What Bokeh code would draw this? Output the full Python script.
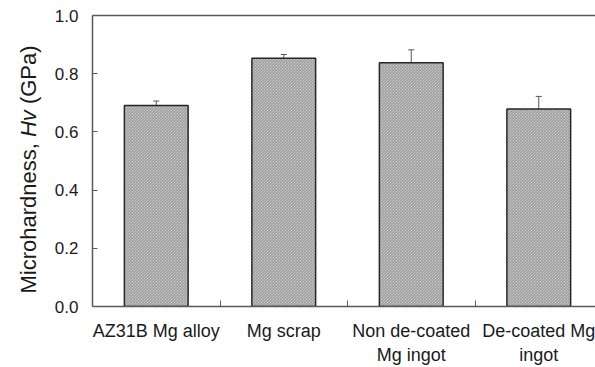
import math
from bokeh.plotting import figure
from bokeh.layouts import row
from bokeh.models import (ColumnDataSource, Range1d, FixedTicker, LinearAxis, Whisker)
from bokeh.core.properties import value
from bokeh.embed import file_html
from bokeh.resources import INLINE

categories = ["AZ31B Mg alloy", "Mg scrap", "Non de-coated\nMg ingot", "De-coated Mg\ningot"]
hardness = [0.691, 0.853, 0.838, 0.679]
errors = [0.015, 0.013, 0.044, 0.043]
y_ticks = [0.0, 0.2, 0.4, 0.6, 0.8, 1.0]
y_title_parts = ["Microhardness,", "Hv", "(GPa)"]

xs = list(range(len(categories)))
src = ColumnDataSource(dict(
    x=xs, top=hardness,
    upper=[h + e for h, e in zip(hardness, errors)],
    lower=[h - e for h, e in zip(hardness, errors)],
))

FONT = "Liberation Sans"
AXIS_COL = "#595959"
TXT_COL = "#1a1a1a"
W, H = 595, 367
LEFT_W = 48

p = figure(width=W - LEFT_W, height=H, output_backend="svg", toolbar_location=None,
           x_range=Range1d(-0.5, 3.445), y_range=Range1d(0, 1.0),
           min_border_left=92 - LEFT_W, min_border_right=0, min_border_top=15,
           min_border_bottom=51)
p.background_fill_color = "white"
p.border_fill_color = "white"
p.outline_line_color = None
p.xgrid.grid_line_color = None
p.ygrid.grid_line_color = None

p.vbar(x="x", top="top", width=0.5, bottom=0, source=src,
       fill_color="#e4e4e4", line_color="#262626", line_width=1.5,
       hatch_pattern="\\", hatch_color="#8c8c8c", hatch_scale=3, hatch_weight=1)

w = Whisker(base="x", upper="upper", lower="lower", source=src,
            line_color="#595959", line_width=1)
w.upper_head.size = 6
w.lower_head.size = 6
w.upper_head.line_color = "#595959"
w.lower_head.line_color = "#595959"
p.add_layout(w)

# x axis
xa = p.xaxis[0]
xa.ticker = FixedTicker(ticks=xs, minor_ticks=[0.5, 1.5, 2.5])
xa.major_label_overrides = {i: c for i, c in enumerate(categories)}
xa.major_tick_line_color = None
xa.minor_tick_in = 6
xa.minor_tick_out = 0
xa.minor_tick_line_color = AXIS_COL
xa.axis_line_color = AXIS_COL
xa.axis_line_width = 1.5
xa.major_label_text_font = FONT
xa.major_label_text_font_size = "18px"
xa.major_label_text_color = TXT_COL
xa.major_label_standoff = 8

# y axis
ya = p.yaxis[0]
ya.ticker = FixedTicker(ticks=y_ticks)
ya.major_label_overrides = {t: f"{t:.1f}" for t in y_ticks}
ya.major_tick_in = 5
ya.major_tick_out = 0
ya.minor_tick_line_color = None
ya.major_tick_line_color = AXIS_COL
ya.axis_line_color = AXIS_COL
ya.axis_line_width = 1.5
ya.major_label_text_font = FONT
ya.major_label_text_font_size = "17px"
ya.major_label_text_color = TXT_COL
ya.major_label_standoff = 14

# top border line
top_axis = LinearAxis(ticker=FixedTicker(ticks=[]), axis_line_color=AXIS_COL,
                      axis_line_width=1.5, major_tick_line_color=None,
                      minor_tick_line_color=None, major_label_text_font_size="0px")
p.add_layout(top_axis, "above")

# left strip holding the y-axis title (with italic Hv)
lf = figure(frame_width=LEFT_W, frame_height=H, output_backend="svg", toolbar_location=None,
            x_range=Range1d(0, LEFT_W), y_range=Range1d(0, H), title=None,
            x_axis_type=None, y_axis_type=None,
            min_border_left=0, min_border_right=0, min_border_top=0, min_border_bottom=0)
lf.outline_line_color = None
lf.xgrid.grid_line_color = None
lf.ygrid.grid_line_color = None
lf.background_fill_color = "white"
lf.border_fill_color = "white"

fs = 22
em = [7.113, 1.5, 2.667]  # advance (em) of each part incl. following space
total = sum(em) * fs
y0 = (H - 154) - total / 2
styles = ["normal", "italic", "normal"]
pos = y0
for txt, adv, st in zip(y_title_parts, em, styles):
    lf.text(x=[28], y=[pos], text=[txt], angle=math.pi / 2,
            text_align="left", text_baseline="middle",
            text_font=value(FONT), text_font_size=f"{fs}px",
            text_font_style=st, text_color=TXT_COL)
    pos += adv * fs

layout = row(lf, p, spacing=0)
open("out.html", "w").write(file_html(layout, INLINE))
